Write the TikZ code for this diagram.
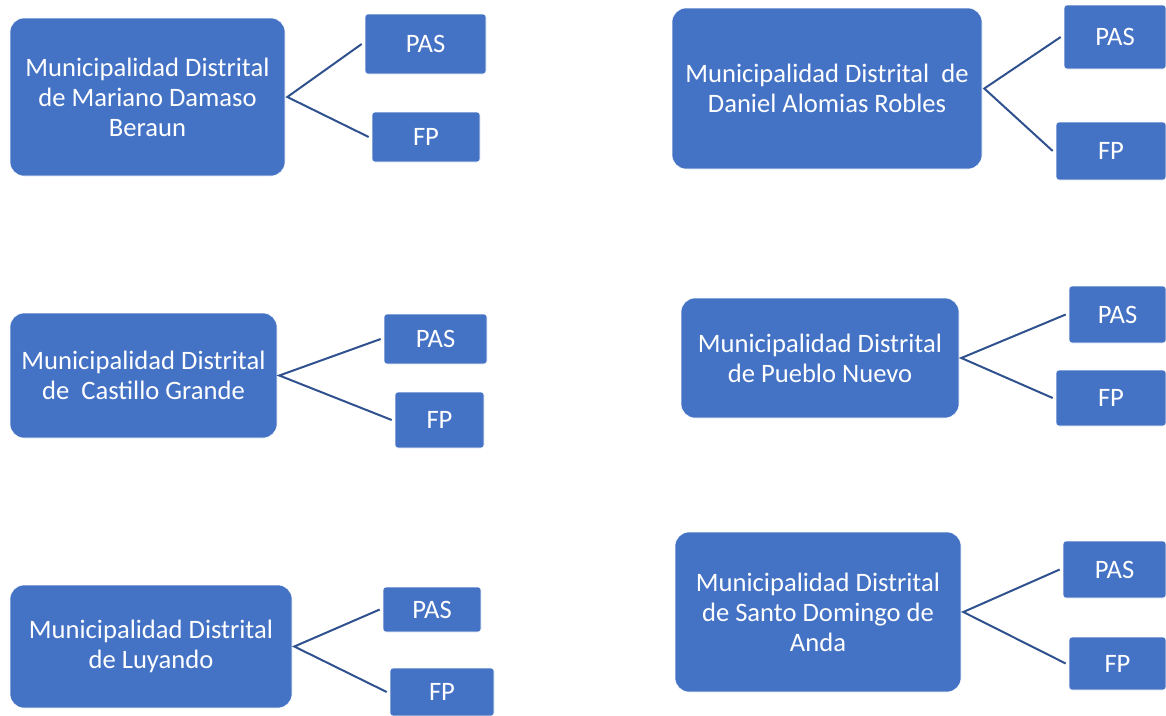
\documentclass[tikz,border=0pt]{standalone}
\usepackage{fontspec}
\setmainfont{Carlito}

\begin{document}
\begin{tikzpicture}[x=1pt, y=-1pt,
  font=\fontsize{26.6}{30}\selectfont,
  muni/.style={draw=white, line width=0.6pt, fill=officeblue, text=white, rounded corners=14pt, align=center, inner sep=0pt, minimum width=#1},
  tag/.style={draw=white, line width=0.6pt, fill=officeblue, text=white, rounded corners=3pt, inner sep=0pt},
  link/.style={draw=linkblue, line width=2pt}]
\definecolor{officeblue}{RGB}{68,114,196}
\definecolor{linkblue}{RGB}{47,82,143}
\useasboundingbox (0,0) rectangle (1166,715);
% left column
\node[muni=275pt, minimum height=158pt] (mdb) at (147.5,97) {Municipalidad Distrital\\de Mariano Damaso\\Beraun};
\node[tag, minimum width=121pt, minimum height=60pt] (mdb-pas) at (425.5,44) {PAS};
\node[tag, minimum width=108pt, minimum height=50pt] (mdb-fp) at (426,137) {FP};
\node[muni=267pt, minimum height=125pt] (cg) at (143.5,375.5) {Municipalidad Distrital\\de\ \ Castillo Grande};
\node[tag, minimum width=103pt, minimum height=50pt] (cg-pas) at (435.5,339) {PAS};
\node[tag, minimum width=89pt, minimum height=56pt] (cg-fp) at (439.5,420) {FP};
\node[muni=282pt, minimum height=123pt] (luy) at (151,646.5) {Municipalidad Distrital\\de Luyando};
\node[tag, minimum width=98pt, minimum height=45pt] (luy-pas) at (432,609.5) {PAS};
\node[tag, minimum width=104pt, minimum height=48pt] (luy-fp) at (442,692) {FP};
% right column
\node[muni=310pt, minimum height=161pt] (dar) at (827,88.5) {Municipalidad Distrital\ \ de\\Daniel Alomias Robles};
\node[tag, minimum width=102pt, minimum height=64pt] (dar-pas) at (1115,37) {PAS};
\node[tag, minimum width=110pt, minimum height=58pt] (dar-fp) at (1111,151) {FP};
\node[muni=278pt, minimum height=120pt] (pn) at (820,358) {Municipalidad Distrital\\de Pueblo Nuevo};
\node[tag, minimum width=97pt, minimum height=57pt] (pn-pas) at (1117.5,314.5) {PAS};
\node[tag, minimum width=110pt, minimum height=56pt] (pn-fp) at (1111,398) {FP};
\node[muni=286pt, minimum height=160pt] (sda) at (818,612) {Municipalidad Distrital\\de Santo Domingo de\\Anda};
\node[tag, minimum width=103pt, minimum height=57pt] (sda-pas) at (1114.5,569.5) {PAS};
\node[tag, minimum width=97pt, minimum height=53pt] (sda-fp) at (1117.5,663.5) {FP};
\foreach \m in {mdb,cg,luy,dar,pn,sda}
  \draw[link] ([xshift=-3pt]\m-pas.west) -- ([xshift=2pt]\m.east) -- ([xshift=-3pt]\m-fp.west);
\end{tikzpicture}
\end{document}
